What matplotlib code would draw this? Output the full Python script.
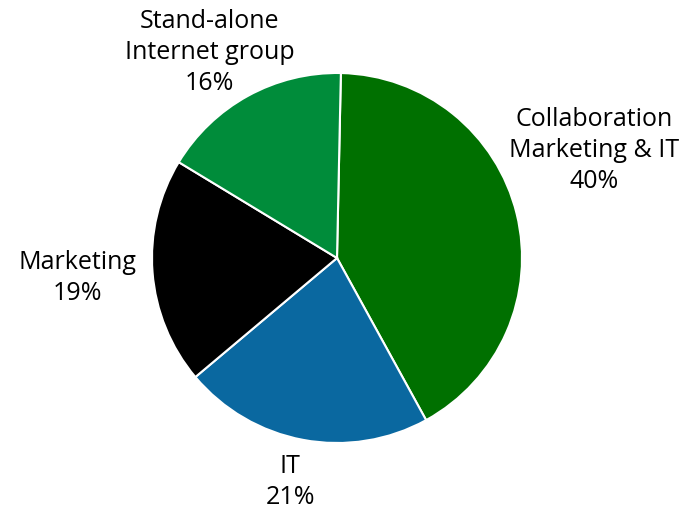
import matplotlib
matplotlib.use("Agg")
import matplotlib.pyplot as plt

categories = ["Collaboration\nMarketing & IT", "IT", "Marketing", "Stand-alone\nInternet group"]
values = [40, 21, 19, 16]
colors = ["#007000", "#0a68a0", "#000000", "#008c3a"]
label_pos = [(1.39, 0.58), (-0.254, -1.21), (-1.405, -0.108), (-0.69, 1.11)]

plt.rcParams['font.family'] = ['Open Sans', 'DejaVu Sans']

fig = plt.figure(figsize=(6.98, 5.14), dpi=100)
ax = fig.add_axes([(337 - 185) / 698, (514 - 258 - 185) / 514, 370 / 698, 370 / 514])
ax.pie(values, colors=colors, startangle=88.8, counterclock=False,
       wedgeprops=dict(edgecolor="white", linewidth=1.5), radius=1.0)
ax.set_xlim(-1, 1)
ax.set_ylim(-1, 1)
ax.set_aspect('equal')
for cat, v, (x, y) in zip(categories, values, label_pos):
    ax.text(x, y, f"{cat}\n{v}%", ha="center", va="center", fontsize=18,
            linespacing=1.32, clip_on=False)
fig.savefig("out.png", dpi=100)
